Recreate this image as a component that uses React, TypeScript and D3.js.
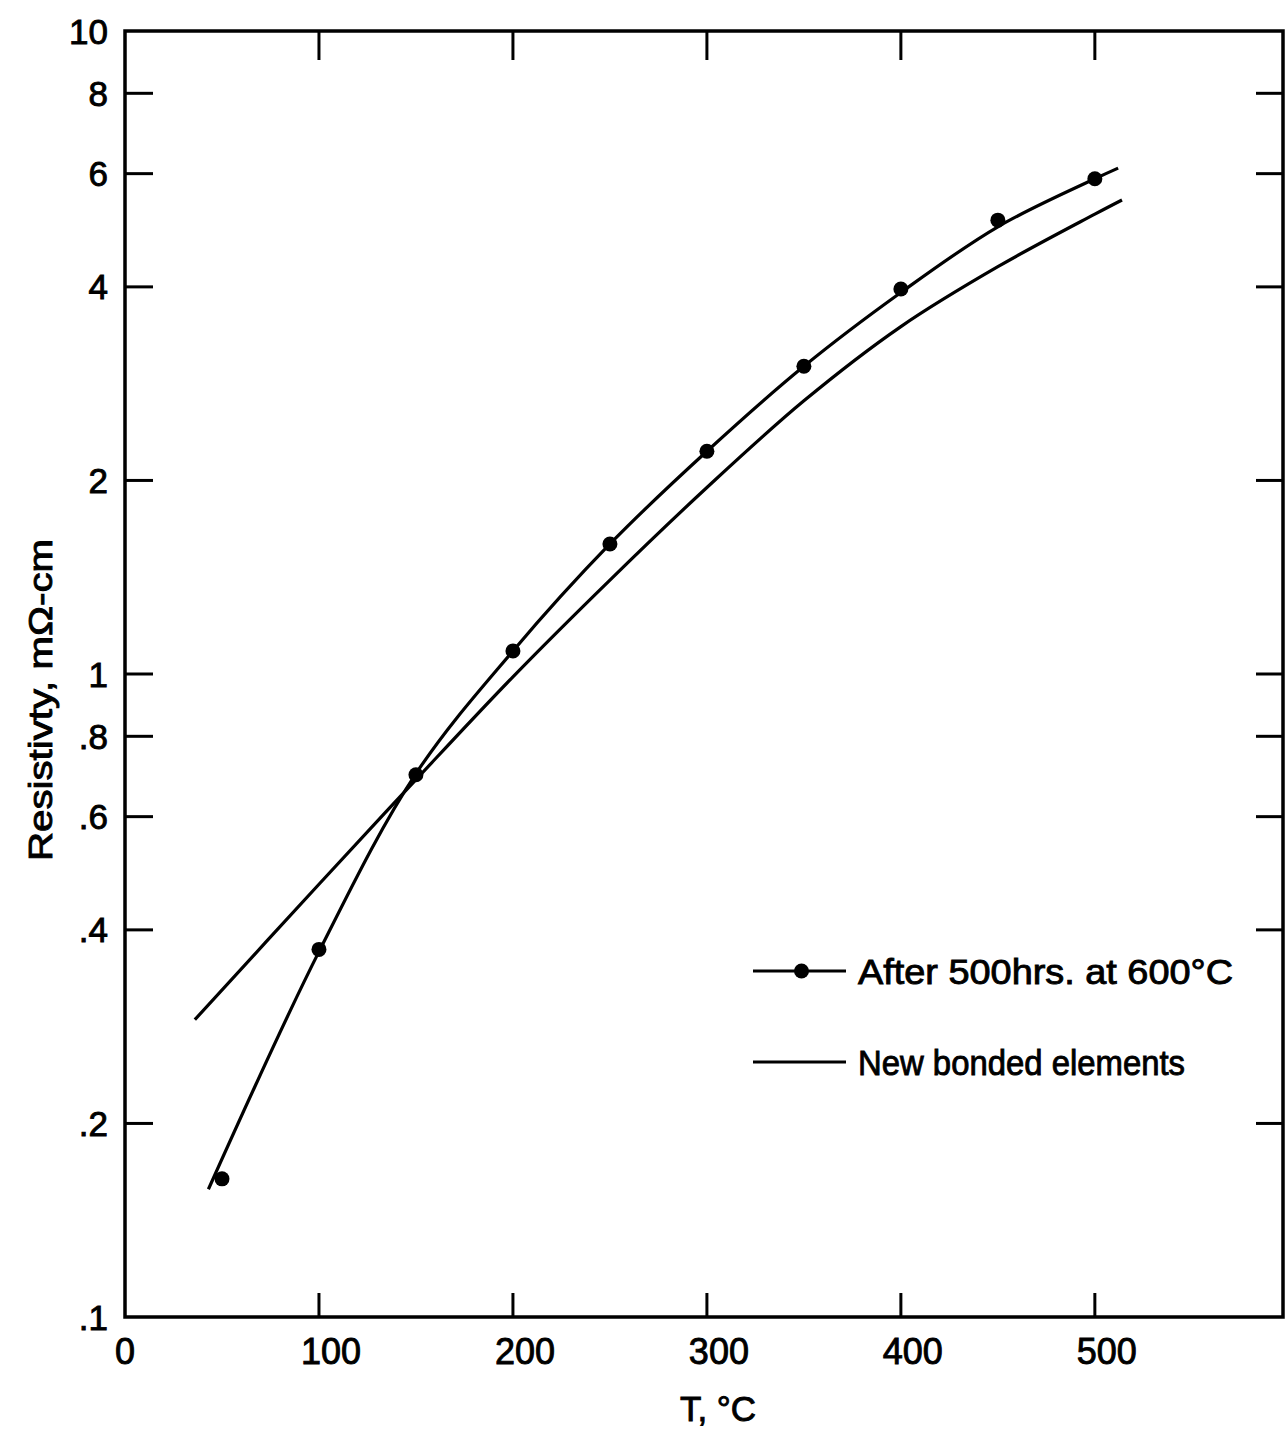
import React from "react";
import * as d3 from "d3";

const xTicks = [0, 100, 200, 300, 400, 500];
const xTickLabels = ["0", "100", "200", "300", "400", "500"];
const yTicks = [10, 8, 6, 4, 2, 1, 0.8, 0.6, 0.4, 0.2, 0.1];
const yTickLabels = ["10", "8", "6", "4", "2", "1", ".8", ".6", ".4", ".2", ".1"];
const yInnerTicks = [8, 6, 4, 2, 1, 0.8, 0.6, 0.4, 0.2];
const xInnerTicks = [100, 200, 300, 400, 500];

// Measured points: after 500 hrs at 600 °C
const agedPointT = [50, 100, 150, 200, 250, 300, 350, 400, 450, 500];
const agedPointR = [0.164, 0.373, 0.697, 1.086, 1.593, 2.22, 3.01, 3.97, 5.08, 5.89];

// Smooth curve through aged data
const agedCurveT = [43, 100, 150, 200, 250, 300, 350, 400, 450, 500, 512];
const agedCurveR = [0.158, 0.37, 0.7, 1.086, 1.593, 2.22, 3.01, 3.92, 4.96, 5.89, 6.12];

// New bonded elements curve
const newCurveT = [36, 100, 150, 200, 250, 300, 350, 400, 450, 500, 514];
const newCurveR = [0.29, 0.471, 0.685, 0.99, 1.4, 1.95, 2.66, 3.47, 4.3, 5.19, 5.46];

const seriesNames = ["After 500hrs. at 600°C", "New bonded elements"];
const xTitle = "T, °C";
const yTitle = "Resistivty, mΩ-cm";

const FONT = "'Liberation Sans', Arial, sans-serif";
const TXT = { fill: "#000", stroke: "#000", strokeWidth: 0.9 };

export default function App() {
  const W = 1285;
  const H = 1434;
  const x = d3.scaleLinear().domain([0, 597]).range([125, 1283]);
  const y = d3.scaleLog().domain([0.1, 10]).range([1317, 31]);

  const line = d3
    .line<[number, number]>()
    .x((d) => x(d[0]))
    .y((d) => y(d[1]))
    .curve(d3.curveCatmullRom.alpha(0.5));

  const agedPath = line(agedCurveT.map((t, i) => [t, agedCurveR[i]] as [number, number])) || "";
  const newPath = line(newCurveT.map((t, i) => [t, newCurveR[i]] as [number, number])) || "";

  const x0 = x.range()[0];
  const x1 = x.range()[1];
  const yTop = y.range()[1];
  const yBot = y.range()[0];

  const legX0 = 753;
  const legX1 = 846;
  const legY = [971, 1062];

  return (
    <svg
      width={W}
      height={H}
      style={{ position: "absolute", left: 0, top: 0, background: "#fff" }}
      fontFamily={FONT}
    >
      <rect x={0} y={0} width={W} height={H} fill="#fff" />
      {/* frame */}
      <rect
        x={x0}
        y={yTop}
        width={x1 - x0}
        height={yBot - yTop}
        fill="none"
        stroke="#000"
        strokeWidth={3.5}
      />
      {/* x ticks top & bottom */}
      {xInnerTicks.map((t) => (
        <g key={"xt" + t}>
          <line x1={x(t)} x2={x(t)} y1={yTop} y2={yTop + 29} stroke="#000" strokeWidth={3} />
          <line x1={x(t)} x2={x(t)} y1={yBot} y2={yBot - 24} stroke="#000" strokeWidth={3} />
        </g>
      ))}
      {/* y ticks left & right */}
      {yInnerTicks.map((t) => (
        <g key={"yt" + t}>
          <line x1={x0} x2={x0 + 28} y1={y(t)} y2={y(t)} stroke="#000" strokeWidth={3} />
          <line x1={x1} x2={x1 - 27} y1={y(t)} y2={y(t)} stroke="#000" strokeWidth={3} />
        </g>
      ))}
      {/* y tick labels */}
      {yTicks.map((t, i) => (
        <text
          key={"yl" + t}
          x={108}
          y={y(t)}
          dy="0.36em"
          textAnchor="end"
          fontSize={35}
          {...TXT}
        >
          {yTickLabels[i]}
        </text>
      ))}
      {/* x tick labels */}
      {xTicks.map((t, i) => (
        <text
          key={"xl" + t}
          x={x(t) + (t === 0 ? 0 : 12)}
          y={1364}
          textAnchor="middle"
          fontSize={36}
          {...TXT}
        >
          {xTickLabels[i]}
        </text>
      ))}
      {/* axis titles */}
      <text x={718} y={1421} textAnchor="middle" fontSize={35} {...TXT}>
        {xTitle}
      </text>
      <text
        transform={`translate(52, 700) rotate(-90)`}
        textAnchor="middle"
        fontSize={33}
        textLength={322}
        lengthAdjust="spacingAndGlyphs"
        {...TXT}
      >
        {yTitle}
      </text>
      {/* curves */}
      <path d={newPath} fill="none" stroke="#000" strokeWidth={3.2} />
      <path d={agedPath} fill="none" stroke="#000" strokeWidth={3.2} />
      {agedPointT.map((t, i) => (
        <circle key={"p" + t} cx={x(t)} cy={y(agedPointR[i])} r={7.5} fill="#000" />
      ))}
      {/* legend */}
      <line x1={legX0} x2={legX1} y1={legY[0]} y2={legY[0]} stroke="#000" strokeWidth={3.2} />
      <circle cx={(legX0 + legX1) / 2 + 2} cy={legY[0]} r={7.5} fill="#000" />
      <text x={858} y={legY[0] + 13} fontSize={35} textLength={375} lengthAdjust="spacingAndGlyphs" {...TXT}>
        {seriesNames[0]}
      </text>
      <line x1={legX0} x2={legX1} y1={legY[1]} y2={legY[1]} stroke="#000" strokeWidth={3.2} />
      <text x={858} y={legY[1] + 13} fontSize={35} textLength={327} lengthAdjust="spacingAndGlyphs" {...TXT}>
        {seriesNames[1]}
      </text>
    </svg>
  );
}
